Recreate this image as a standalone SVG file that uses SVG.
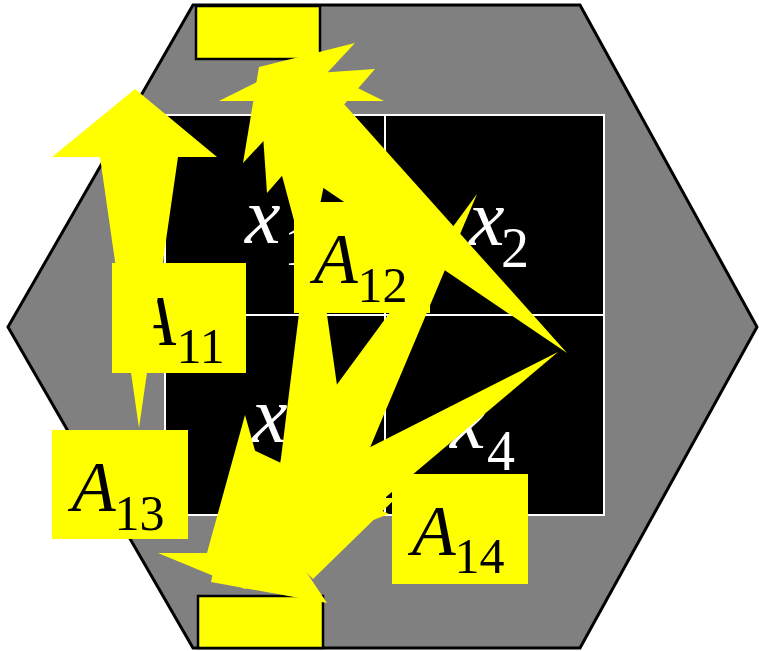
<svg xmlns="http://www.w3.org/2000/svg" width="759" height="651" viewBox="0 0 759 651">
<style>
.cell{fill:#000;stroke:#fff;stroke-width:2}
.node{fill:#ff0;stroke:#000;stroke-width:2.5}
.lbl{fill:#ff0;stroke:none}
.y{fill:#ff0;stroke:none}
text{font-family:'Liberation Serif','Times New Roman','DejaVu Serif',serif}
.xm{font-style:italic;font-size:80px;fill:#fff}
.xs{font-size:56px;fill:#fff}
.am{font-style:italic;font-size:72px;fill:#000}
.as{font-size:50px;fill:#000}
</style>
<g id="hexagon"><polygon points="193,5 580,5 757,327 580,648 193,648 8,327" fill="#808080" stroke="#000" stroke-width="3"/></g>
<g id="cell-x1"><rect class="cell" x="165" y="115" width="220" height="200"/><text class="xm" x="245" y="243" font-family="Liberation Serif, serif">x</text><text class="xs" x="284" y="265" font-family="Liberation Serif, serif">1</text></g>
<g id="cell-x2"><rect class="cell" x="385" y="115" width="219" height="200"/><text class="xm" x="469" y="245" font-family="Liberation Serif, serif">x</text><text class="xs" x="501" y="267" font-family="Liberation Serif, serif">2</text></g>
<g id="cell-x3"><rect class="cell" x="165" y="315" width="220" height="200"/><text class="xm" x="252" y="442" font-family="Liberation Serif, serif">x</text><text class="xs" x="288" y="464" font-family="Liberation Serif, serif">3</text></g>
<g id="cell-x4"><rect class="cell" x="385" y="315" width="219" height="200"/><text class="xm" x="450" y="448" font-family="Liberation Serif, serif">x</text><text class="xs" x="487" y="470" font-family="Liberation Serif, serif">4</text></g>
<g id="node-top"><rect class="node" x="196" y="6" width="124" height="53"/></g>
<g id="node-bottom"><rect class="node" x="198" y="596" width="125" height="52"/></g>
<g id="label-A11"><rect class="lbl" x="112" y="263" width="134" height="110"/><text class="am" x="132" y="345" font-family="Liberation Serif, serif">A</text><text class="as" x="176.5" y="363" font-family="Liberation Serif, serif">11</text></g>
<g id="connectors">
<polygon class="y" points="139,428 178,157 217,157 135,89 52,157 100,157"/>
<polygon class="y" points="259,67 355,43 243,163"/>
<polygon class="y" points="262,101 341,101 307,269"/>
<polygon class="y" points="219,101 384,101 301,60"/>
<polygon class="y" points="567,353 291,166 344,104"/>
<polygon class="y" points="375,69 267,193 259,77"/>
<polygon class="y" points="312,209 276,498 353,498"/>
<polygon class="y" points="231,498 396,498 313,579"/>
<polygon class="y" points="477,194 280,462 350,495"/>
<polygon class="y" points="241,444 389,514 278,556"/>
<polygon class="y" points="558,352 260,503 303,567"/>
<polygon class="y" points="236,467 327,603 211,582"/>
<polygon class="y" points="245,415 207,553 284,553"/>
<polygon class="y" points="158,553 333,553 245,589"/>
</g>
<g id="label-A12"><rect class="lbl" x="294" y="202" width="136" height="111"/><text class="am" x="313.7" y="283" font-family="Liberation Serif, serif">A</text><text class="as" x="357.5" y="302" font-family="Liberation Serif, serif">12</text></g>
<g id="label-A13"><rect class="lbl" x="52" y="430" width="136" height="109"/><text class="am" x="71.7" y="511" font-family="Liberation Serif, serif">A</text><text class="as" x="114.5" y="530" font-family="Liberation Serif, serif">13</text></g>
<g id="label-A14"><rect class="lbl" x="392" y="474" width="136" height="110"/><text class="am" x="411.7" y="555" font-family="Liberation Serif, serif">A</text><text class="as" x="454.5" y="573" font-family="Liberation Serif, serif">14</text></g>
</svg>
